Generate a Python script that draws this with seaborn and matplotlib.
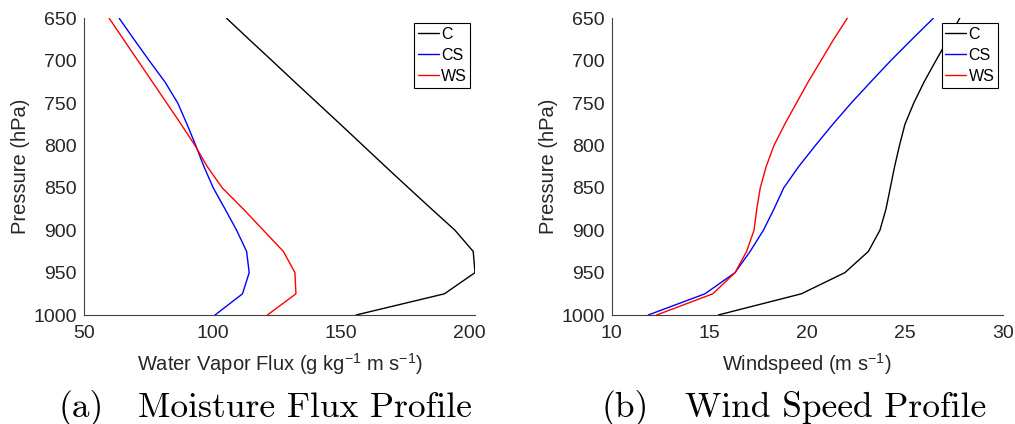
import numpy as np
import pandas as pd
import seaborn as sns
import matplotlib
matplotlib.use("Agg")
import matplotlib.pyplot as plt

# Pressure levels (hPa)
pressure = [650, 675, 700, 725, 750, 775, 800, 825, 850, 875, 900, 925, 950, 975, 1000]

# Water vapor flux (g kg^-1 m s^-1)
flux_c = [105.5, 114.3, 123.2, 132.0, 140.9, 149.8, 158.6, 167.4, 176.3, 185.3, 194.4, 201.5, 202.2, 190.3, 155.9]
flux_cs = [63.7, 69.5, 75.4, 81.5, 86.5, 90.1, 93.5, 96.7, 100.3, 104.9, 109.4, 113.3, 114.3, 111.7, 101.0]
flux_ws = [59.8, 65.4, 71.0, 76.6, 82.2, 87.8, 93.2, 98.0, 103.8, 112.0, 119.8, 127.6, 132.1, 132.5, 121.4]

# Wind speed (m s^-1)
wind_c = [27.8, 27.2, 26.58, 25.98, 25.45, 25.0, 24.72, 24.47, 24.25, 24.03, 23.72, 23.13, 21.93, 19.7, 15.45]
wind_cs = [26.45, 25.35, 24.27, 23.25, 22.25, 21.31, 20.42, 19.56, 18.8, 18.3, 17.76, 17.08, 16.31, 14.77, 11.87]
wind_ws = [22.05, 21.35, 20.7, 20.05, 19.45, 18.85, 18.3, 17.9, 17.6, 17.42, 17.28, 16.9, 16.31, 15.17, 12.3]

groups = ["C", "CS", "WS"]
palette = {"C": "black", "CS": "blue", "WS": "red"}

xticks_flux = [50, 100, 150, 200]
xticks_wind = [10, 15, 20, 25, 30]
yticks = [650, 700, 750, 800, 850, 900, 950, 1000]


def long_frame(values):
    rows = []
    for name, vals in zip(groups, values):
        for p, v in zip(pressure, vals):
            rows.append({"case": name, "pressure": p, "value": v})
    return pd.DataFrame(rows)


flux_df = long_frame([flux_c, flux_cs, flux_ws])
wind_df = long_frame([wind_c, wind_cs, wind_ws])

sns.set_style("white")
text_gray = "#262626"
plt.rcParams.update({
    "font.family": ["Liberation Sans", "DejaVu Sans"],
    "mathtext.fontset": "custom",
    "mathtext.rm": "Liberation Sans",
    "mathtext.default": "regular",
    "xtick.direction": "in",
    "ytick.direction": "in",
    "xtick.color": text_gray,
    "ytick.color": text_gray,
    "text.color": text_gray,
    "axes.labelcolor": text_gray,
})

fig = plt.figure(figsize=(10.15, 4.24), dpi=100)
ax1 = fig.add_axes([84 / 1015, 1 - 315 / 424, 391 / 1015, 296.7 / 424])
ax2 = fig.add_axes([611.7 / 1015, 1 - 315 / 424, 391 / 1015, 296.7 / 424])


def draw(ax, df, xlim, xticks, xlabel):
    sns.lineplot(data=df, x="value", y="pressure", hue="case", palette=palette,
                 hue_order=groups, orient="y", estimator=None, sort=True,
                 linewidth=1.0, ax=ax)
    ax.set_ylim(1000, 650)
    ax.set_xlim(*xlim)
    ax.set_yticks(yticks)
    ax.set_xticks(xticks)
    ax.tick_params(axis="both", labelsize=14, length=4, width=0.8, pad=5)
    ax.tick_params(axis="x", pad=7)
    for side in ("top", "right"):
        ax.spines[side].set_visible(False)
    for side in ("left", "bottom"):
        ax.spines[side].set_color("#404040")
        ax.spines[side].set_linewidth(0.8)
    ax.set_xlabel(xlabel, fontsize=14.5, labelpad=7)
    ax.set_ylabel("Pressure (hPa)", fontsize=14.5)
    ax.yaxis.set_label_coords(-0.138, 0.5)
    leg = ax.legend(loc="upper right", bbox_to_anchor=(0.988, 0.983),
                    fontsize=11.5, frameon=True, fancybox=False,
                    handlelength=1.3, handletextpad=0.15, borderpad=0.22,
                    labelspacing=0.38, borderaxespad=0.0, framealpha=1.0)
    leg.get_frame().set_edgecolor("black")
    leg.get_frame().set_linewidth(0.8)
    for t in leg.get_texts():
        t.set_color("black")


draw(ax1, flux_df, (50, 202.2), xticks_flux,
     r"Water Vapor Flux (g kg$^{-1}$ m s$^{-1}$)")
draw(ax2, wind_df, (10, 30), xticks_wind,
     r"Windspeed (m s$^{-1}$)")

# Sub-figure captions in a Computer Modern face
cap_kw = dict(fontsize=25.5, family="cmr10", color="black", va="baseline")
fig.text(59 / 1015, 1 - 417 / 424, "(a)", **cap_kw)
fig.text(138 / 1015, 1 - 417 / 424, "Moisture Flux Profile", **cap_kw)
fig.text(601.7 / 1015, 1 - 417 / 424, "(b)", **cap_kw)
fig.text(685 / 1015, 1 - 417 / 424, "Wind Speed Profile", **cap_kw)

fig.savefig("out.png", dpi=100)
